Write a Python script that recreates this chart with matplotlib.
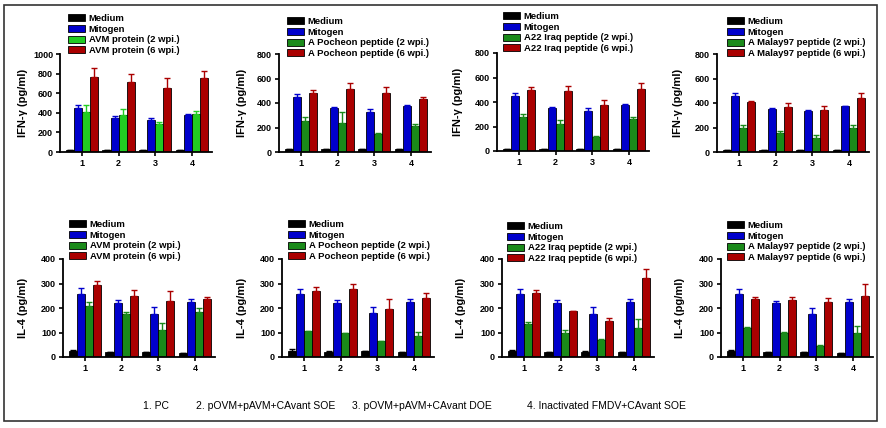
import numpy as np
import matplotlib
matplotlib.use("Agg")
import matplotlib.pyplot as plt
from matplotlib.patches import Rectangle

plt.rcParams['font.family'] = ['Liberation Sans', 'DejaVu Sans']
plt.rcParams['font.weight'] = 'bold'

W, H = 887, 428
groups = ['1', '2', '3', '4']
footer = ['1. PC', '2. pOVM+pAVM+CAvant SOE', '3. pOVM+pAVM+CAvant DOE',
          '4. Inactivated FMDV+CAvant SOE']

# IFN-gamma, top row
avm_ifn_med = [18, 16, 17, 16]
avm_ifn_mit = [451, 349, 329, 380]
avm_ifn_mit_err = [24, 16, 21, 5]
avm_ifn_2w = [413, 380, 285, 390]
avm_ifn_2w_err = [62, 60, 25, 27]
avm_ifn_6w = [770, 719, 654, 760]
avm_ifn_6w_err = [88, 78, 102, 64]

poch_ifn_med = [22, 22, 22, 22]
poch_ifn_mit = [446, 360, 330, 379]
poch_ifn_mit_err = [24, 6, 19, 4]
poch_ifn_2w = [255, 239, 148, 209]
poch_ifn_2w_err = [27, 91, 5, 19]
poch_ifn_6w = [480, 518, 483, 432]
poch_ifn_6w_err = [25, 48, 49, 19]

a22_ifn_med = [18, 15, 17, 17]
a22_ifn_mit = [451, 355, 328, 376]
a22_ifn_mit_err = [24, 6, 19, 4]
a22_ifn_2w = [275, 224, 117, 261]
a22_ifn_2w_err = [29, 27, 6, 19]
a22_ifn_6w = [501, 488, 379, 504]
a22_ifn_6w_err = [19, 45, 34, 51]

mal_ifn_med = [20, 20, 20, 20]
mal_ifn_mit = [458, 350, 334, 372]
mal_ifn_mit_err = [22, 10, 7, 5]
mal_ifn_2w = [199, 154, 113, 197]
mal_ifn_2w_err = [22, 21, 27, 27]
mal_ifn_6w = [407, 367, 342, 437]
mal_ifn_6w_err = [11, 29, 35, 48]

# IL-4, bottom row
avm_il4_med = [23, 20, 19, 15]
avm_il4_med_err = [7, 2, 2, 2]
avm_il4_mit = [256, 219, 177, 226]
avm_il4_mit_err = [24, 12, 27, 11]
avm_il4_2w = [210, 174, 112, 185]
avm_il4_2w_err = [13, 11, 27, 16]
avm_il4_6w = [295, 248, 227, 235]
avm_il4_6w_err = [14, 27, 42, 10]

poch_il4_med = [24, 21, 24, 20]
poch_il4_med_err = [8, 2, 1, 1]
poch_il4_mit = [257, 222, 179, 226]
poch_il4_mit_err = [22, 11, 26, 11]
poch_il4_2w = [105, 97, 65, 85]
poch_il4_2w_err = [2, 1, 1, 16]
poch_il4_6w = [271, 279, 197, 240]
poch_il4_6w_err = [13, 21, 41, 23]

a22_il4_med = [25, 20, 22, 19]
a22_il4_med_err = [5, 2, 1, 1]
a22_il4_mit = [257, 221, 177, 224]
a22_il4_mit_err = [22, 11, 26, 11]
a22_il4_2w = [134, 96, 68, 117]
a22_il4_2w_err = [7, 15, 6, 40]
a22_il4_6w = [261, 186, 147, 321]
a22_il4_6w_err = [12, 3, 13, 38]

mal_il4_med = [25, 20, 20, 16]
mal_il4_med_err = [4, 2, 1, 1]
mal_il4_mit = [257, 221, 177, 224]
mal_il4_mit_err = [20, 8, 25, 11]
mal_il4_2w = [119, 98, 44, 96]
mal_il4_2w_err = [3, 4, 7, 30]
mal_il4_6w = [236, 232, 225, 248]
mal_il4_6w_err = [10, 14, 15, 48]

zero4 = [0, 0, 0, 0]
antigens = ['AVM protein', 'A Pocheon peptide', 'A22 Iraq peptide', 'A Malay97 peptide']

panels = [
    # (axes left px, top px, ymax, ystep, ylabel, antigen, green, series, legend px, ylabel px)
    (60, 54, 1000, 200, 'IFN-\u03b3 (pg/ml)', antigens[0], '#22cc22',
     [(avm_ifn_med, zero4), (avm_ifn_mit, avm_ifn_mit_err), (avm_ifn_2w, avm_ifn_2w_err), (avm_ifn_6w, avm_ifn_6w_err)],
     (68, 14), 28),
    (279, 54, 800, 200, 'IFN-\u03b3 (pg/ml)', antigens[1], '#1a8a1a',
     [(poch_ifn_med, zero4), (poch_ifn_mit, poch_ifn_mit_err), (poch_ifn_2w, poch_ifn_2w_err), (poch_ifn_6w, poch_ifn_6w_err)],
     (287, 17), 247),
    (497, 53, 800, 200, 'IFN-\u03b3 (pg/ml)', antigens[2], '#1a8a1a',
     [(a22_ifn_med, zero4), (a22_ifn_mit, a22_ifn_mit_err), (a22_ifn_2w, a22_ifn_2w_err), (a22_ifn_6w, a22_ifn_6w_err)],
     (503, 12), 463),
    (717, 54, 800, 200, 'IFN-\u03b3 (pg/ml)', antigens[3], '#1a8a1a',
     [(mal_ifn_med, zero4), (mal_ifn_mit, mal_ifn_mit_err), (mal_ifn_2w, mal_ifn_2w_err), (mal_ifn_6w, mal_ifn_6w_err)],
     (727, 17), 683),
    (63, 259, 400, 100, 'IL-4 (pg/ml)', antigens[0], '#1a8a1a',
     [(avm_il4_med, avm_il4_med_err), (avm_il4_mit, avm_il4_mit_err), (avm_il4_2w, avm_il4_2w_err), (avm_il4_6w, avm_il4_6w_err)],
     (69, 220), 28),
    (282, 259, 400, 100, 'IL-4 (pg/ml)', antigens[1], '#1a8a1a',
     [(poch_il4_med, poch_il4_med_err), (poch_il4_mit, poch_il4_mit_err), (poch_il4_2w, poch_il4_2w_err), (poch_il4_6w, poch_il4_6w_err)],
     (288, 220), 247),
    (502, 259, 400, 100, 'IL-4 (pg/ml)', antigens[2], '#1a8a1a',
     [(a22_il4_med, a22_il4_med_err), (a22_il4_mit, a22_il4_mit_err), (a22_il4_2w, a22_il4_2w_err), (a22_il4_6w, a22_il4_6w_err)],
     (507, 222), 466),
    (721, 259, 400, 100, 'IL-4 (pg/ml)', antigens[3], '#1a8a1a',
     [(mal_il4_med, mal_il4_med_err), (mal_il4_mit, mal_il4_mit_err), (mal_il4_2w, mal_il4_2w_err), (mal_il4_6w, mal_il4_6w_err)],
     (727, 221), 685),
]

fig = plt.figure(figsize=(W / 100, H / 100), dpi=100)

x = np.arange(1, 5)
bw = 0.22
offsets = [-1.5 * bw, -0.5 * bw, 0.5 * bw, 1.5 * bw]

for left, top, ymax, ystep, ylab, antigen, green, series, leg, ylx in panels:
    axw, axh = 152, 98
    ax = fig.add_axes([left / W, 1 - (top + axh) / H, axw / W, axh / H])
    colors = ['#000000', '#0000cc', green, '#aa0000']
    labels = ['Medium', 'Mitogen', antigen + ' (2 wpi.)', antigen + ' (6 wpi.)']
    handles = []
    for (vals, errs), off, col, lab in zip(series, offsets, colors, labels):
        b = ax.bar(x + off, vals, bw, color=col, edgecolor='black', linewidth=0.6,
                   yerr=[zero4, errs], ecolor=col, capsize=2.2,
                   error_kw={'elinewidth': 1, 'capthick': 1}, label=lab, zorder=2)
        handles.append(b)
    ax.set_xlim(0.40, 4.55)
    ax.set_ylim(0, ymax)
    ax.set_yticks(np.arange(0, ymax + 1, ystep))
    ax.set_xticks(x)
    ax.set_xticklabels(groups)
    for s in ['top', 'right']:
        ax.spines[s].set_visible(False)
    for s in ['left', 'bottom']:
        ax.spines[s].set_linewidth(1.3)
    ax.tick_params(axis='both', labelsize=6.5, width=1.2, length=3, pad=2)
    for t in ax.get_xticklabels() + ax.get_yticklabels():
        t.set_fontweight('bold')
    ax.set_ylabel(ylab, fontsize=8, fontweight='bold')
    ax.yaxis.set_label_coords((ylx - left) / axw, 0.5)
    ax.legend(handles, labels, loc='upper left',
              bbox_to_anchor=(leg[0] / W, 1 - leg[1] / H), bbox_transform=fig.transFigure,
              frameon=False, fontsize=6.8, handlelength=1.8, handleheight=0.75,
              handletextpad=0.4, labelspacing=0.18, borderpad=0, borderaxespad=0)

footer_x = [143, 196, 352, 527]
for fx, txt in zip(footer_x, footer):
    fig.text(fx / W, 1 - 406 / H, txt, fontsize=7.5, fontweight='normal', va='center',
             family=['Liberation Sans Narrow', 'Liberation Sans', 'DejaVu Sans'])

fig.patches.append(Rectangle((4 / W, 1 - 421 / H), 873 / W, 416 / H, transform=fig.transFigure,
                             fill=False, edgecolor='#333333', linewidth=1.2))

fig.savefig('out.png', dpi=100)
